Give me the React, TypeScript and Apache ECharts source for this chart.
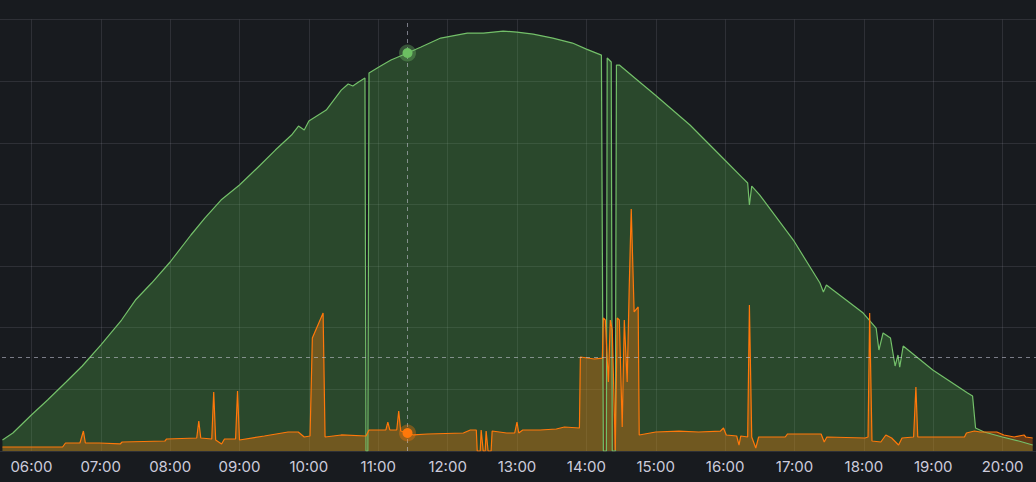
import React, { useEffect, useRef } from "react";
import * as echarts from "echarts";

// minutes since midnight
const solarMinutes = [335,344,352,360,374,390,404,420,438,450,464,480,498,510,524,540,558,571,585,591,596,600,615,628,634,638,643,648.5,649.4,651,652,662,671,685.3,697,714,737,751,768,780,794,811,828,840,853,854.7,857.3,858,861.5,862.4,865,866,868.5,886,899.5,929.6,959.7,974.4,979.5,981,983,990,1019,1042,1045,1047.6,1079.4,1090.6,1093,1096.6,1103,1107,1109.5,1111,1114,1139.6,1169.7,1174,1176.6,1184,1199.8,1214,1226];
// watts
const solarWatts = [178,292,438,584,827,1119,1379,1719,2125,2449,2725,3066,3504,3779,4071,4315,4639,4882,5126,5272,5207,5353,5531,5855,5953,5920,5985,6050,0,0,6131,6245,6342,6456,6553,6699,6780,6780,6812,6796,6764,6699,6618,6520,6423,0,0,6375,6310,0,0,6261,6261,5985,5774,5288,4720,4444,4347,3990,4298,4152,3422,2725,2579,2693,2238,1995,1638,1914,1833,1379,1557,1362,1703,1314,941,892,373,308,227,162,97];

const loadMinutes = [335,387,389.5,402,405,406.7,418.8,436.8,438.5,475.5,477,503,504.8,506.5,516,517.7,519.4,524.5,527,536.6,538.3,540,561.5,582,590.8,596,601,603,612.3,614,628,649.4,652,666.6,668.3,670,676,677.7,679.4,685.3,690.5,702.6,733.6,739.6,744.8,745.6,748.2,749,750.8,752.5,753.3,755,757.6,758.5,771,778,780,781.5,785,800,814,821,834,834.8,846.9,853.8,854.7,856.4,859,860.7,862.4,865,866.7,868.5,871,872.8,875.3,877,878.8,881.3,884.8,885.7,900,920,937,956,958.6,961,970,972,973.5,979.5,981,983,986.5,989,1012,1014,1043,1045.7,1048,1081,1083.6,1085,1087,1094.7,1099,1104,1110,1113,1123,1125,1126.6,1167,1168.7,1175.6,1180.5,1195,1201,1210,1218.5,1220,1226];
const loadWatts = [65,65,130,130,324,130,130,114,146,162,195,211,487,211,195,957,178,114,195,195,973,178,243,308,308,227,243,1833,2238,227,260,243,341,341,470,341,341,649,324,292,260,276,292,341,341,0,0,341,0,0,324,0,0,324,292,292,470,292,341,341,357,389,373,1525,1492,1508,2157,2125,1119,2125,1963,16,2157,2125,389,2125,1119,2611,3925,2255,2336,260,308,324,308,324,373,260,243,97,243,227,2368,227,49,227,227,276,276,146,227,211,227,2238,162,146,260,211,97,211,227,1038,227,227,292,324,308,308,260,227,260,227,211];

const hoverMinute = 685.3;
const hoverSolar = 6456;
const hoverLoad = 292;
const crosshairWatts = 1525;

const GREEN = "#73BF69";
const ORANGE = "#FF780A";

export default function App() {
  const ref = useRef<HTMLDivElement>(null);
  useEffect(() => {
    if (!ref.current) return;
    const chart = echarts.init(ref.current, null, { renderer: "svg" });
    const solarData = solarMinutes.map((m, i) => [m, solarWatts[i]]);
    const loadData = loadMinutes.map((m, i) => [m, loadWatts[i]]);
    const gridColor = "rgba(204,204,220,0.12)";
    chart.setOption({
      animation: false,
      backgroundColor: "#181b1f",
      grid: { left: 0, right: 0, top: 19.5, bottom: 31, containLabel: false },
      xAxis: {
        type: "value",
        min: 300,
        max: 1260,
        interval: 60,
        axisLine: { show: false },
        axisTick: { show: false },
        splitLine: { show: true, lineStyle: { color: gridColor, width: 1 } },
        axisLabel: {
          color: "#ccccdc",
          fontSize: 15,
          fontFamily: "Inter",
          margin: 8,
          formatter: (v: number) => {
            if (v <= 300 || v >= 1260) return "";
            const h = Math.floor(v / 60);
            return `${String(h).padStart(2, "0")}:00`;
          },
        },
      },
      yAxis: {
        type: "value",
        min: 0,
        max: 7000,
        interval: 1000,
        axisLine: { show: false },
        axisTick: { show: false },
        axisLabel: { show: false },
        splitLine: { show: true, lineStyle: { color: gridColor, width: 1 } },
      },
      series: [
        {
          name: "Solar",
          type: "line",
          data: solarData,
          showSymbol: false,
          symbol: "none",
          lineStyle: { color: GREEN, width: 1.2 },
          itemStyle: { color: GREEN },
          areaStyle: { color: "rgba(90,190,80,0.4)" },
          markPoint: {
            silent: true,
            symbol: "circle",
            label: { show: false },
            data: [
              { coord: [hoverMinute, hoverSolar], symbolSize: 17, itemStyle: { color: "rgba(115,191,105,0.35)" } },
              { coord: [hoverMinute, hoverSolar], symbolSize: 10, itemStyle: { color: "#6cc062" } },
            ],
          },
        },
        {
          name: "Load",
          type: "line",
          data: loadData,
          showSymbol: false,
          symbol: "none",
          lineStyle: { color: ORANGE, width: 1.2 },
          itemStyle: { color: ORANGE },
          areaStyle: { color: "rgba(255,120,10,0.47)" },
          markLine: {
            silent: true,
            symbol: ["none", "none"],
            label: { show: false },
            lineStyle: { color: "rgba(204,204,220,0.55)", width: 1, type: [4, 4] },
            data: [{ xAxis: hoverMinute }, { yAxis: crosshairWatts }],
          },
          markPoint: {
            silent: true,
            symbol: "circle",
            label: { show: false },
            data: [
              { coord: [hoverMinute, hoverLoad], symbolSize: 17, itemStyle: { color: "rgba(255,120,10,0.35)" } },
              { coord: [hoverMinute, hoverLoad], symbolSize: 10, itemStyle: { color: ORANGE } },
            ],
          },
        },
      ],
    });
    return () => chart.dispose();
  }, []);
  return (
    <div style={{ position: "absolute", left: 0, top: 0, width: 1036, height: 482, overflow: "hidden", background: "#181b1f" }}>
      <div ref={ref} style={{ position: "absolute", left: -41, top: 0, width: 1116, height: 482 }} />
    </div>
  );
}
